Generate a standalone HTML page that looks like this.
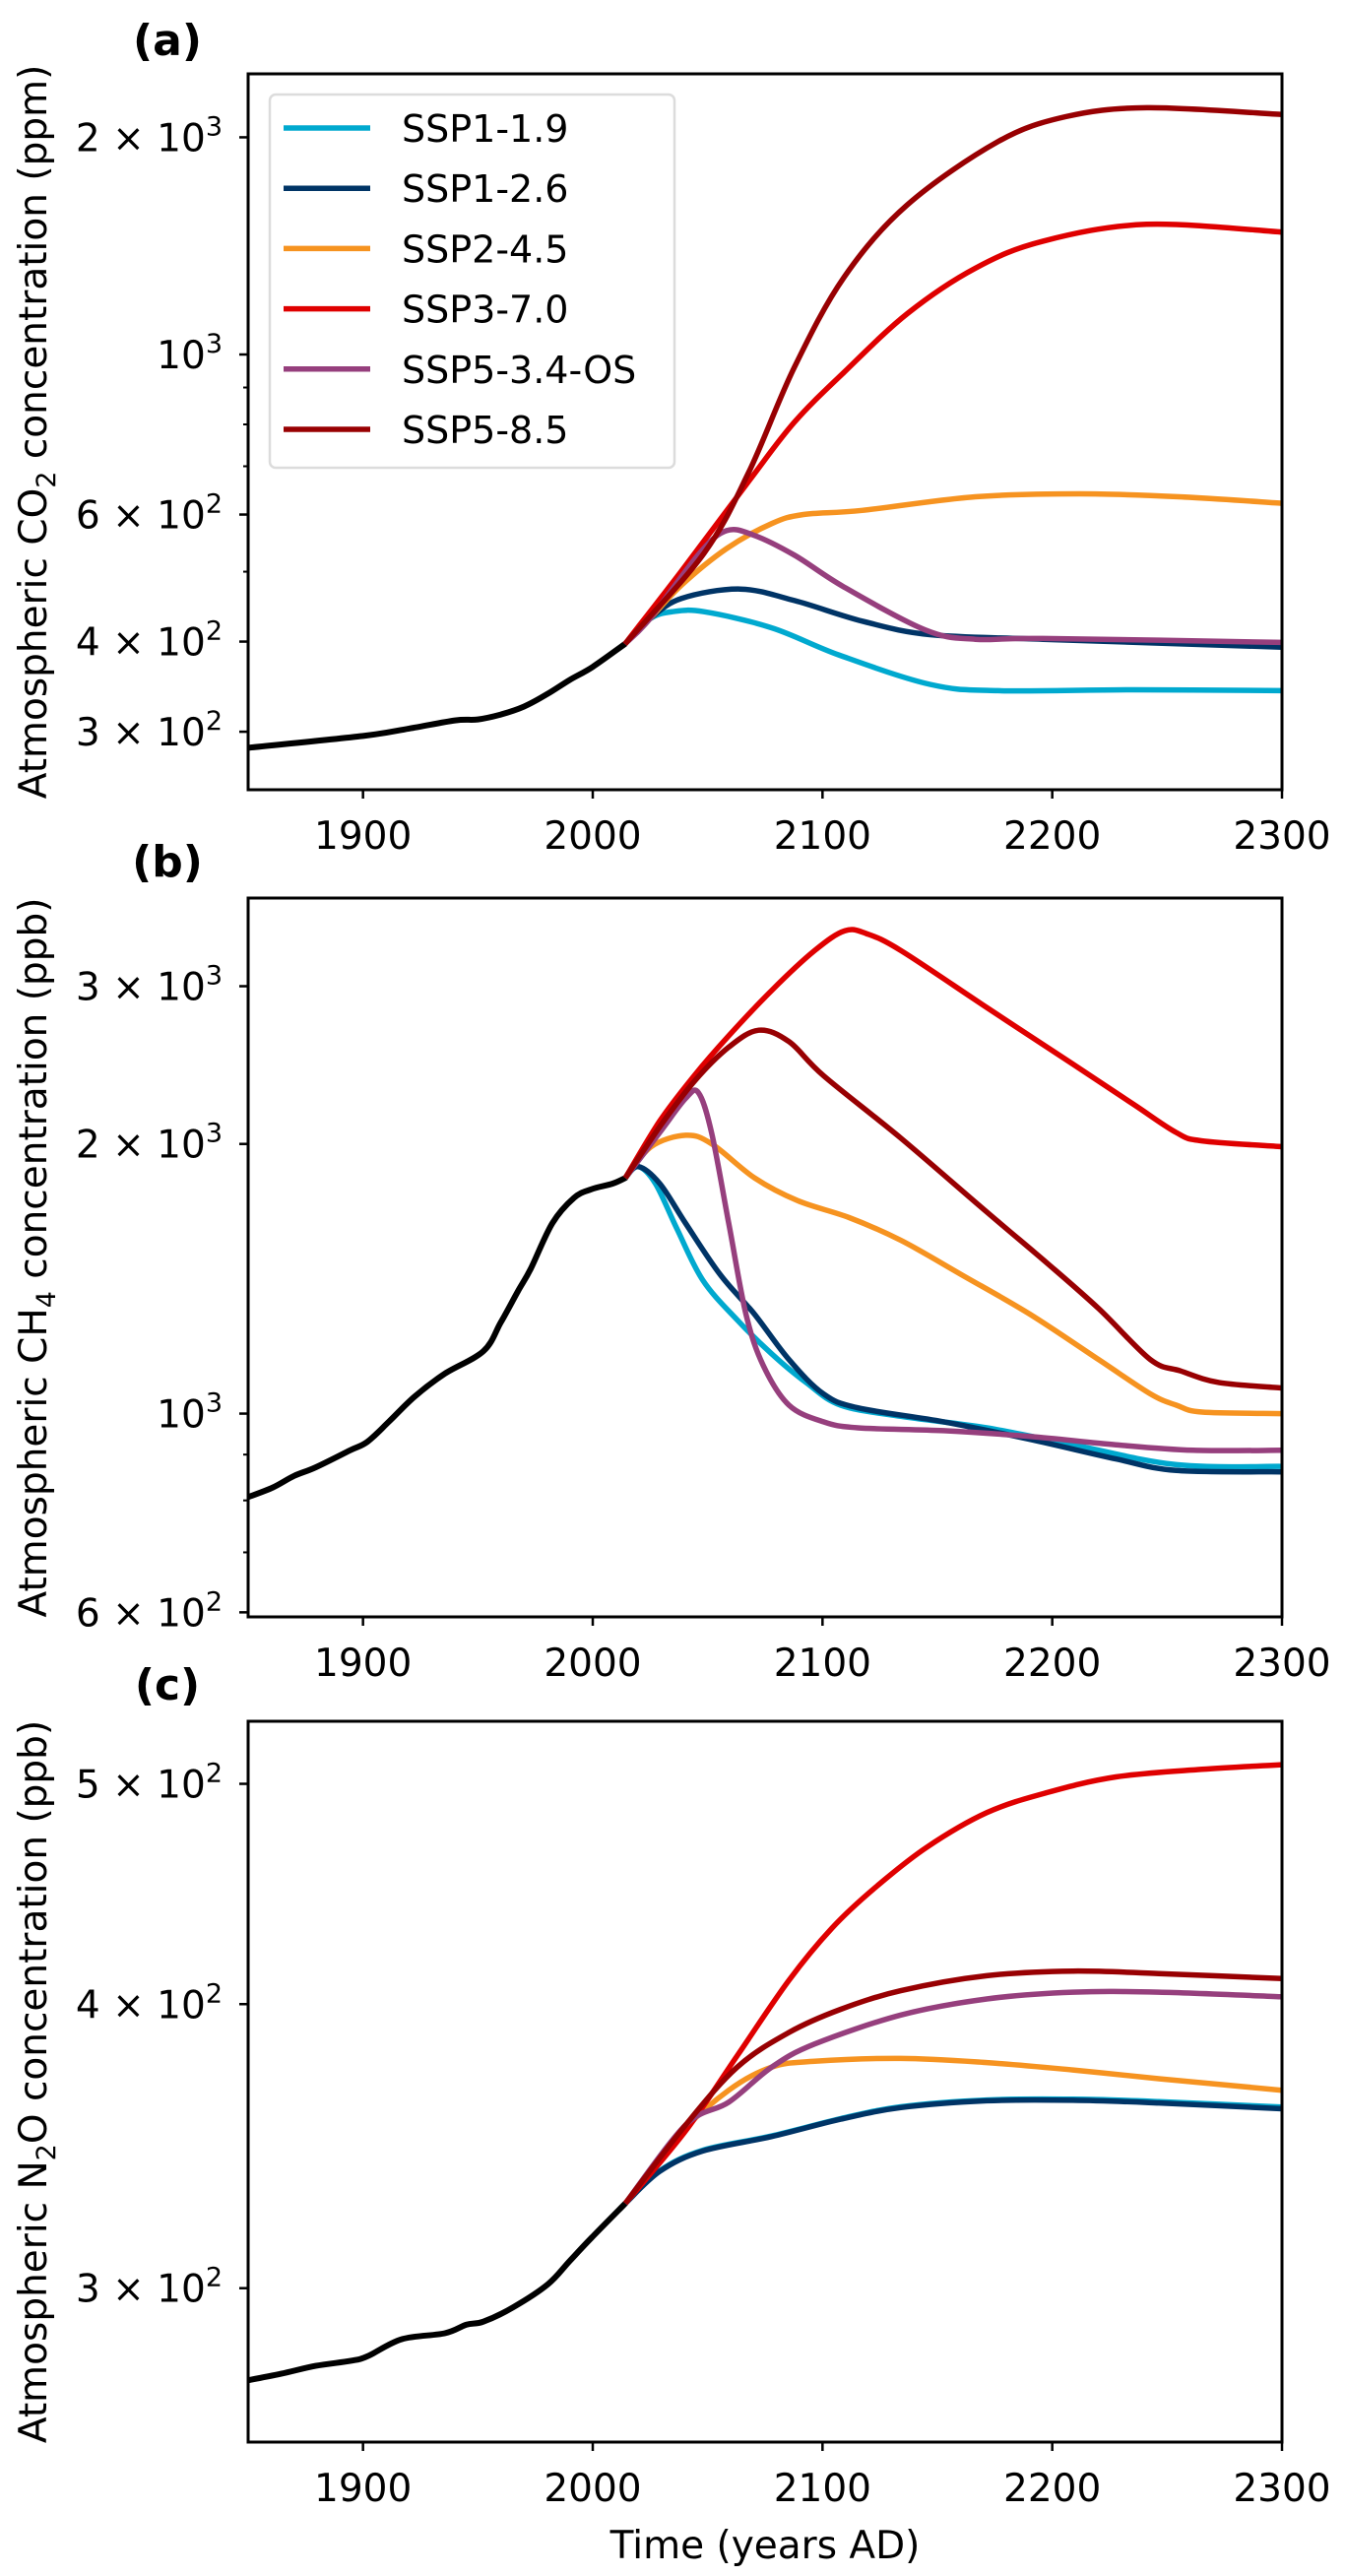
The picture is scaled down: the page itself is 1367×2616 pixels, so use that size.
<!DOCTYPE html>
<html><head><meta charset="utf-8"><style>
html,body{margin:0;padding:0;background:#fff}
svg{display:block}
text{font-family:"DejaVu Sans","Liberation Sans",sans-serif;fill:#000}
</style></head><body>
<svg id="fig" width="1367" height="2616" viewBox="0 0 1367 2616" xmlns="http://www.w3.org/2000/svg"></svg>
<script>
const years = [1850, 2300];
const scenarioNames = ["SSP1-1.9","SSP1-2.6","SSP2-4.5","SSP3-7.0","SSP5-3.4-OS","SSP5-8.5"];
const scenarioColors = ["#00a9cf","#003466","#f69320","#df0000","#963f7d","#980002"];
const xTicks = [1900, 2000, 2100, 2200, 2300];

// Panel (a) CO2 ppm
const co2HistYears = [1850,1900,1920,1940,1950,1960,1970,1980,1990,2000,2014];
const co2HistVals  = [285,296,303,311,312,317,325,338,354,369,397];
const co2Years = [
 [2014,2024.8,2034.6,2048.4,2077.9,2107.4,2146.8,2176.3,2235.4,2300],
 [2014,2024.8,2038.6,2064.1,2087.8,2117.3,2146.8,2196,2300],
 [2014,2024.8,2038.6,2058.2,2077.9,2091.7,2117.3,2166.5,2211.8,2255.1,2300],
 [2014,2038.6,2068,2087.8,2109.4,2137,2166.5,2196,2241,2300],
 [2014,2024.8,2046.4,2058.2,2070,2087.8,2109.4,2144.8,2166.5,2196,2300],
 [2014,2048.4,2068,2087.7,2109.4,2136.9,2176.3,2205.8,2241.2,2300]
];
const co2Vals = [
 [397,430,440,440,418,383,349,342,343,342],
 [397,430,459,473,456,427,409,403,393],
 [397,430,479,538,583,600,608,635,641,635,622],
 [397,501,668,806,945,1140,1317,1436,1515,1478],
 [397,430,530,570,562,527,476,415,403,404,399],
 [397,530,688,959,1280,1612,1972,2136,2198,2151]
];
const co2Ticks = [300,400,600,1000,2000];
const co2TickBase = ["3","4","6","","2"];
const co2TickExp = ["2","2","2","3","3"];
const co2Minor = [500,700,800,900];

// Panel (b) CH4 ppb
const ch4HistYears = [1849.4,1860.7,1870,1879.4,1894.4,1901.9,1911.2,1922.5,1935.6,1952.4,1959.9,1967.4,1973,1982.4,1991.8,1999.3,2008.6,2014.2];
const ch4HistVals  = [806,827,852,871,910,930,979,1045,1108,1174,1263,1369,1451,1631,1741,1780,1806,1833];
const ch4Years = [
 [2014.2,2019.8,2027.3,2036.7,2047.9,2062.9,2077.9,2092.9,2107.9,2134.1,2171.5,2209,2254,2300],
 [2014.2,2019.8,2029.2,2040.4,2055.4,2070.4,2085.4,2100.4,2115.4,2152.8,2190.3,2227.7,2254,2300],
 [2014.2,2025.4,2040.4,2051.7,2070.4,2089.1,2111.6,2134.1,2160.3,2190.3,2220.2,2242.7,2254,2265.2,2300],
 [2014.2,2029.2,2044.2,2059.2,2077.9,2096.6,2109.7,2119.1,2134.1,2171.5,2209,2235.2,2253.9,2265.2,2300],
 [2014.2,2029.2,2040.4,2046,2051.7,2059.2,2066.7,2074.2,2085.4,2100.4,2115.4,2152.8,2190.3,2227.7,2261.4,2300],
 [2014.2,2029.2,2044.2,2059.2,2072.3,2085.4,2100.4,2134.1,2171.5,2197.8,2220.2,2242.7,2255.8,2272.7,2300]
];
const ch4Vals = [
 [1833,1887,1806,1607,1409,1272,1166,1083,1022,993,964,923,877,873],
 [1833,1887,1806,1631,1430,1291,1149,1052,1015,979,936,890,864,861],
 [1833,1986,2045,2001,1833,1729,1655,1561,1430,1291,1149,1052,1022,1004,1000],
 [1833,2122,2384,2641,2968,3288,3459,3434,3288,2840,2455,2216,2060,2016,1986],
 [1833,2060,2248,2282,2060,1631,1291,1132,1022,979,964,957,943,923,910,910],
 [1833,2091,2349,2565,2679,2602,2384,2030,1679,1472,1310,1149,1116,1083,1068]
];
const ch4Ticks = [600,1000,2000,3000];
const ch4TickBase = ["6","","2","3"];
const ch4TickExp = ["2","3","3","3"];
const ch4Minor = [700,800,900];

// Panel (c) N2O ppb
const n2oHistYears = [1849.4,1864.4,1879.4,1894.4,1901.9,1916.9,1935.6,1945,1952.4,1965.5,1980.5,1989.9,1999.3,2014.2];
const n2oHistVals  = [273.2,275.1,277.3,278.7,280,284.9,286.6,289.1,290,294.3,301.2,308.3,315.6,326.9];
const n2oYears = [
 [2014.2,2029.2,2047.9,2077.9,2107.9,2134.1,2171.5,2209,2246.4,2300],
 [2014.2,2029.2,2047.9,2077.9,2107.9,2134.1,2171.5,2209,2246.4,2300],
 [2014.2,2036.7,2059.2,2077.9,2096.6,2134.1,2171.5,2209,2246.4,2300],
 [2014.2,2040.4,2062.9,2085.4,2104.1,2122.8,2145.3,2171.5,2197.8,2227.7,2265.2,2300],
 [2014.2,2040.4,2059.2,2077.9,2096.6,2134.1,2171.5,2209,2246.4,2300],
 [2014.2,2040.4,2062.9,2085.4,2107.9,2134.1,2171.5,2209,2246.4,2300]
];
const n2oVals = [
 [326.9,337.9,345,350,356.2,360.5,363,363.3,362.4,360.4],
 [326.9,337.7,344.7,349.8,356,360.2,362.7,362.9,361.9,359.8],
 [326.9,349.8,366.6,375.3,377.5,378.6,377,374.2,370.9,366.6],
 [326.9,351.8,379.7,409.8,432,450,468.8,485.6,495.6,503.5,507.4,509.8],
 [326.9,353.9,362.2,375.3,384.2,395.6,402.1,404.9,404.9,403],
 [326.9,353.9,375.3,388.7,397.9,405.5,411.7,413.6,412.6,410.5]
];
const n2oTicks = [300,400,500];
const n2oTickBase = ["3","4","5"];
const n2oTickExp = ["2","2","2"];
const n2oMinor = [];

const NS = "http://www.w3.org/2000/svg";
const svg = document.getElementById("fig");
function mk(tag, attrs, parent){
  const e = document.createElementNS(NS, tag);
  for (const k in attrs) e.setAttribute(k, attrs[k]);
  (parent||svg).appendChild(e);
  return e;
}
function splinePath(pts){
  if (pts.length < 2) return "";
  let d = "M" + pts[0][0].toFixed(1) + "," + pts[0][1].toFixed(1);
  for (let i = 0; i < pts.length - 1; i++){
    const p0 = pts[Math.max(0,i-1)], p1 = pts[i], p2 = pts[i+1], p3 = pts[Math.min(pts.length-1,i+2)];
    const c1x = p1[0] + (p2[0]-p0[0])/6, c1y = p1[1] + (p2[1]-p0[1])/6;
    const c2x = p2[0] - (p3[0]-p1[0])/6, c2y = p2[1] - (p3[1]-p1[1])/6;
    d += "C" + c1x.toFixed(1)+","+c1y.toFixed(1)+" "+c2x.toFixed(1)+","+c2y.toFixed(1)+" "+p2[0].toFixed(1)+","+p2[1].toFixed(1);
  }
  return d;
}

const L = 252, R = 1302;
function panel(cfg){
  const g = mk("g", {});
  
  
  const top = cfg.top, bot = cfg.bot;
  const lmin = Math.log10(cfg.ylim[0]), lmax = Math.log10(cfg.ylim[1]);
  const xs = yr => L + (yr - years[0]) / (years[1]-years[0]) * (R - L);
  const ys = v => bot - (Math.log10(v) - lmin) / (lmax - lmin) * (bot - top);
  // clip
  const cid = cfg.name + "-clip";
  const defs = mk("defs", {}, g);
  const cp = mk("clipPath", {id: cid}, defs);
  mk("rect", {x: L, y: top, width: R-L, height: bot-top}, cp);
  const plot = mk("g", {"clip-path": "url(#"+cid+")"}, g);
  // historical
  const hp = mk("path", {d: splinePath(cfg.hy.map((y,i)=>[xs(y), ys(cfg.hv[i])])), fill:"none", stroke:"#000", "stroke-width":6, "stroke-linejoin":"round", "stroke-linecap":"round"}, plot);
  
  
  cfg.sy.forEach((yrArr, s) => {
    const p = mk("path", {d: splinePath(yrArr.map((y,i)=>[xs(y), ys(cfg.sv[s][i])])), fill:"none", stroke: scenarioColors[s], "stroke-width":5.5, "stroke-linejoin":"round", "stroke-linecap":"butt"}, plot);
    
    
  });
  // frame
  const fr = mk("rect", {x: L, y: top, width: R-L, height: bot-top, fill:"none", stroke:"#000", "stroke-width":3}, g);
  
  
  // x ticks
  xTicks.forEach(t => {
    const x = xs(t);
    mk("line", {x1:x, x2:x, y1:bot, y2:bot+9, stroke:"#000", "stroke-width":2.5}, g);
    const tx = mk("text", {x:x, y:bot+60, "text-anchor":"middle", "font-size":39}, g);
    tx.textContent = t;
    
    
  });
  // y ticks
  cfg.ticks.forEach((t,i) => {
    const y = ys(t);
    mk("line", {x1:L-9, x2:L, y1:y, y2:y, stroke:"#000", "stroke-width":2.5}, g);
    const tx = mk("text", {x:226, y:y+14, "text-anchor":"end", "font-size":39}, g);
    
    
    const a = mk("tspan", {}, tx);
    a.textContent = (cfg.base[i] ? cfg.base[i] + " \u00d7 " : "") + "10";
    const b = mk("tspan", {dy:-16, "font-size":27}, tx);
    b.textContent = cfg.exp[i];
  });
  cfg.minor.forEach(t => {
    const y = ys(t);
    mk("line", {x1:L-5, x2:L, y1:y, y2:y, stroke:"#000", "stroke-width":2}, g);
  });
  // y label
  const cy = (top+bot)/2;
  const yl = mk("text", {x:0, y:0, "text-anchor":"middle", "font-size":39, transform:"translate(47,"+cy+") rotate(-90)"}, g);
  
  
  const y1 = mk("tspan", {}, yl); y1.textContent = "Atmospheric " + cfg.gasA;
  const y2 = mk("tspan", {dy:9, "font-size":27}, yl); y2.textContent = cfg.sub;
  const y3 = mk("tspan", {dy:-9}, yl); y3.textContent = cfg.gasB + " concentration (" + cfg.unit + ")";
  // panel letter
  const pl = mk("text", {x:170, y:cfg.letterY, "text-anchor":"middle", "font-size":44, "font-weight":"bold"}, g);
  pl.textContent = cfg.letter;
  
  
}

panel({name:"co2-panel", top:75, bot:802, ylim:[249.3,2449], hy:co2HistYears, hv:co2HistVals, sy:co2Years, sv:co2Vals,
  ticks:co2Ticks, base:co2TickBase, exp:co2TickExp, minor:co2Minor, gasA:"CO", sub:"2", gasB:"", unit:"ppm", letter:"(a)", letterY:56});
panel({name:"ch4-panel", top:912, bot:1642, ylim:[593,3763], hy:ch4HistYears, hv:ch4HistVals, sy:ch4Years, sv:ch4Vals,
  ticks:ch4Ticks, base:ch4TickBase, exp:ch4TickExp, minor:ch4Minor, gasA:"CH", sub:"4", gasB:"", unit:"ppb", letter:"(b)", letterY:890});
panel({name:"n2o-panel", top:1748, bot:2480, ylim:[256.7,532.7], hy:n2oHistYears, hv:n2oHistVals, sy:n2oYears, sv:n2oVals,
  ticks:n2oTicks, base:n2oTickBase, exp:n2oTickExp, minor:n2oMinor, gasA:"N", sub:"2", gasB:"O", unit:"ppb", letter:"(c)", letterY:1726});

// x axis title
const xt = mk("text", {x:777, y:2598, "text-anchor":"middle", "font-size":39});
xt.textContent = "Time (years AD)";



// legend
const lg = mk("g", {});


mk("rect", {x:274, y:96, width:411, height:379, rx:6, fill:"#fff", "fill-opacity":0.8, stroke:"#dcdcdc", "stroke-width":2.5}, lg);
scenarioNames.forEach((n,i) => {
  const y = 130 + i*61.2;
  const e = mk("g", {}, lg);
  
  
  mk("line", {x1:288, x2:376, y1:y, y2:y, stroke:scenarioColors[i], "stroke-width":5.5}, e);
  const t = mk("text", {x:408, y:y+14, "font-size":38}, e);
  t.textContent = n;
});
</script>
</body></html>
